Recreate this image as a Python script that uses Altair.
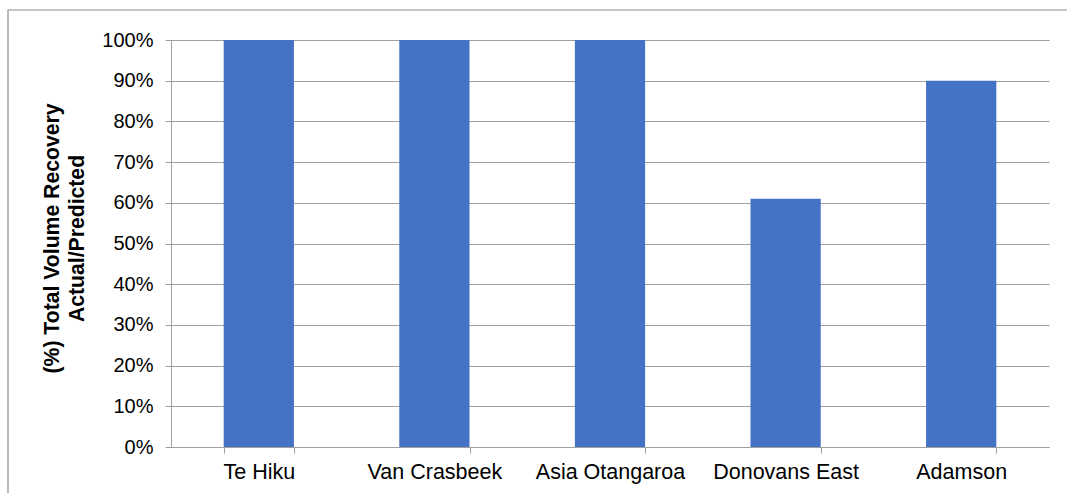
import altair as alt
import pandas as pd

# Recovery ratio (actual / predicted volume) per site
sites = ["Te Hiku", "Van Crasbeek", "Asia Otangaroa", "Donovans East", "Adamson"]
recovery = [1.00, 1.00, 1.00, 0.61, 0.90]

df = pd.DataFrame({"site": sites, "recovery": recovery})

FONT = "Liberation Sans"
GRID = "#a0a0a0"

bars = alt.Chart(df).mark_bar(color="#4472C4").encode(
    x=alt.X(
        "site:N",
        sort=sites,
        scale=alt.Scale(paddingInner=0.6, paddingOuter=0.3),
        axis=alt.Axis(
            title=None,
            labelAngle=0,
            labelFontSize=21.5,
            labelColor="#000000",
            labelPadding=8,
            tickBand="extent",
            tickSize=6,
            tickColor=GRID,
            domainColor=GRID,
            grid=False,
        ),
    ),
    y=alt.Y(
        "recovery:Q",
        scale=alt.Scale(domain=[0, 1]),
        axis=alt.Axis(
            format=".0%",
            values=[i / 10 for i in range(11)],
            title=["(%) Total Volume Recovery", "Actual/Predicted"],
            titleFontSize=21.2,
            titleFontWeight="bold",
            titleColor="#000000",
            titleLineHeight=25,
            titleAngle=-90,
            titleAlign="center",
            titleBaseline="top",
            titleX=-130,
            titleY=198,
            labelFontSize=20,
            labelColor="#000000",
            labelPadding=12,
            tickSize=6,
            tickColor=GRID,
            domainColor=GRID,
            gridColor=GRID,
            gridWidth=1.2,
        ),
    ),
)

# Thin frame around the whole chart area
frame = alt.Chart(df).mark_rect(
    fill=None, stroke="#8c8c8c", strokeWidth=1.2, clip=False
).encode(
    x=alt.value(-163), x2=alt.value(905), y=alt.value(-30), y2=alt.value(470)
).transform_filter(alt.datum.site == "Te Hiku")

chart = (
    alt.layer(frame, bars)
    .properties(
        width=878,
        height=407,
        autosize=alt.AutoSizeParams(type="none"),
        padding={"left": 171, "top": 40, "right": 18, "bottom": 46},
    )
    .configure(font=FONT)
    .configure_view(stroke=None)
)

chart.save("out.html", embed_options={"renderer": "svg", "actions": False})
